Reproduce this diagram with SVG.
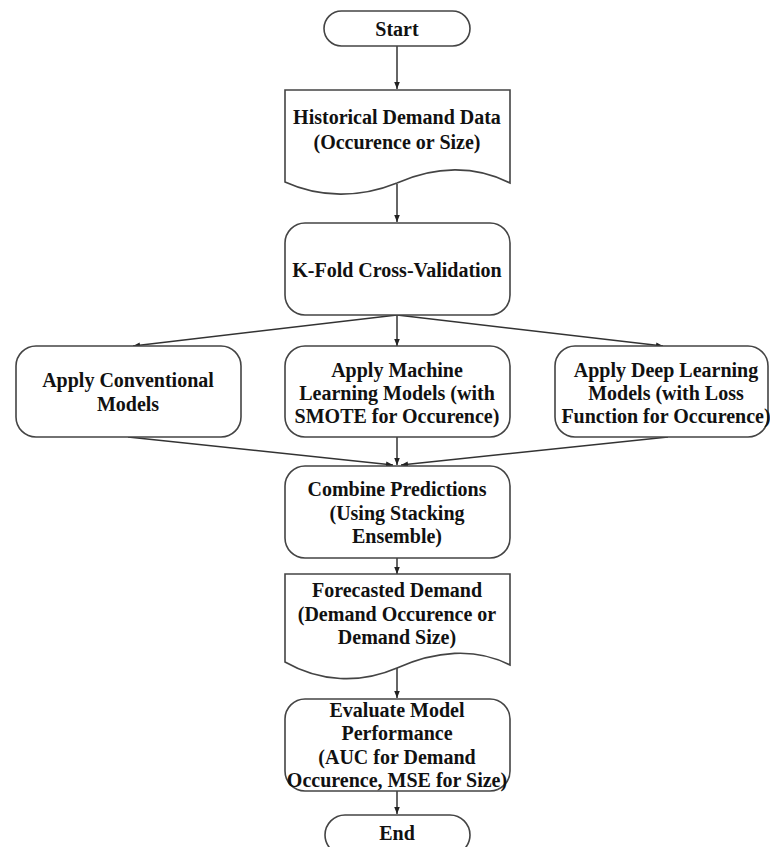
<svg xmlns="http://www.w3.org/2000/svg" width="770" height="847" viewBox="0 0 770 847">
<defs>
<marker id="ah" viewBox="0 0 10 10" refX="10" refY="5" markerWidth="7" markerHeight="7" orient="auto" markerUnits="userSpaceOnUse">
<path d="M0,1 L10,5 L0,9 Z" fill="#222"/>
</marker>
<style>
.n{fill:#fff;stroke:#444;stroke-width:1.6}
.t{font-family:"Liberation Serif","Times New Roman",serif;font-weight:bold;font-size:20px;fill:#111;text-anchor:middle}
.c{stroke:#333;stroke-width:1.5;fill:none;marker-end:url(#ah)}
</style>
</defs>
<rect width="770" height="847" fill="#fff"/>
<g id="connectors">
<line class="c" x1="397" y1="46" x2="397" y2="89"/>
<line class="c" x1="397" y1="184" x2="397" y2="222"/>
<line class="c" x1="397" y1="315" x2="133" y2="346"/>
<line class="c" x1="397" y1="315" x2="397" y2="346"/>
<line class="c" x1="397" y1="315" x2="663" y2="346"/>
<line class="c" x1="128" y1="437" x2="393" y2="465"/>
<line class="c" x1="397" y1="437" x2="397" y2="465"/>
<line class="c" x1="668" y1="437" x2="401" y2="465"/>
<line class="c" x1="397" y1="558" x2="397" y2="574"/>
<line class="c" x1="397" y1="668" x2="397" y2="698"/>
<line class="c" x1="397" y1="791" x2="397" y2="814"/>
</g>
<g id="start">
<rect class="n" x="324" y="11" width="146" height="35" rx="17.5"/>
<text class="t" x="397" y="36">Start</text>
</g>
<g id="historical">
<path class="n" d="M285,90 H510 V183 C475,165 435,166 397,183 C360,198 320,198 285,182 Z"/>
<text class="t" x="397" y="124">Historical Demand Data</text>
<text class="t" x="397" y="149">(Occurence or Size)</text>
</g>
<g id="kfold">
<rect class="n" x="285" y="223" width="225" height="92" rx="20"/>
<text class="t" x="397" y="277">K-Fold Cross-Validation</text>
</g>
<g id="conventional">
<rect class="n" x="16" y="346" width="225" height="91" rx="20"/>
<text class="t" x="128" y="387">Apply Conventional</text>
<text class="t" x="128" y="411">Models</text>
</g>
<g id="ml">
<rect class="n" x="285" y="346" width="225" height="91" rx="20"/>
<text class="t" x="397" y="377">Apply Machine</text>
<text class="t" x="397" y="400">Learning Models (with</text>
<text class="t" x="397" y="423">SMOTE for Occurence)</text>
</g>
<g id="dl">
<rect class="n" x="555" y="346" width="213" height="91" rx="20"/>
<text class="t" x="666" y="377">Apply Deep Learning</text>
<text class="t" x="666" y="400">Models (with Loss</text>
<text class="t" x="666" y="423">Function for Occurence)</text>
</g>
<g id="combine">
<rect class="n" x="285" y="466" width="225" height="92" rx="20"/>
<text class="t" x="397" y="496">Combine Predictions</text>
<text class="t" x="397" y="520">(Using Stacking</text>
<text class="t" x="397" y="543">Ensemble)</text>
</g>
<g id="forecast">
<path class="n" d="M285,574 H510 V665 C475,647 435,651 397,668 C360,684 320,682 285,662 Z"/>
<text class="t" x="397" y="597">Forecasted Demand</text>
<text class="t" x="397" y="621">(Demand Occurence or</text>
<text class="t" x="397" y="644">Demand Size)</text>
</g>
<g id="evaluate">
<rect class="n" x="285" y="699" width="225" height="92" rx="20"/>
<text class="t" x="397" y="717">Evaluate Model</text>
<text class="t" x="397" y="740">Performance</text>
<text class="t" x="397" y="764">(AUC for Demand</text>
<text class="t" x="397" y="787">Occurence, MSE for Size)</text>
</g>
<g id="end">
<rect class="n" x="325" y="815" width="145" height="40" rx="20"/>
<text class="t" x="397" y="840">End</text>
</g>
</svg>
